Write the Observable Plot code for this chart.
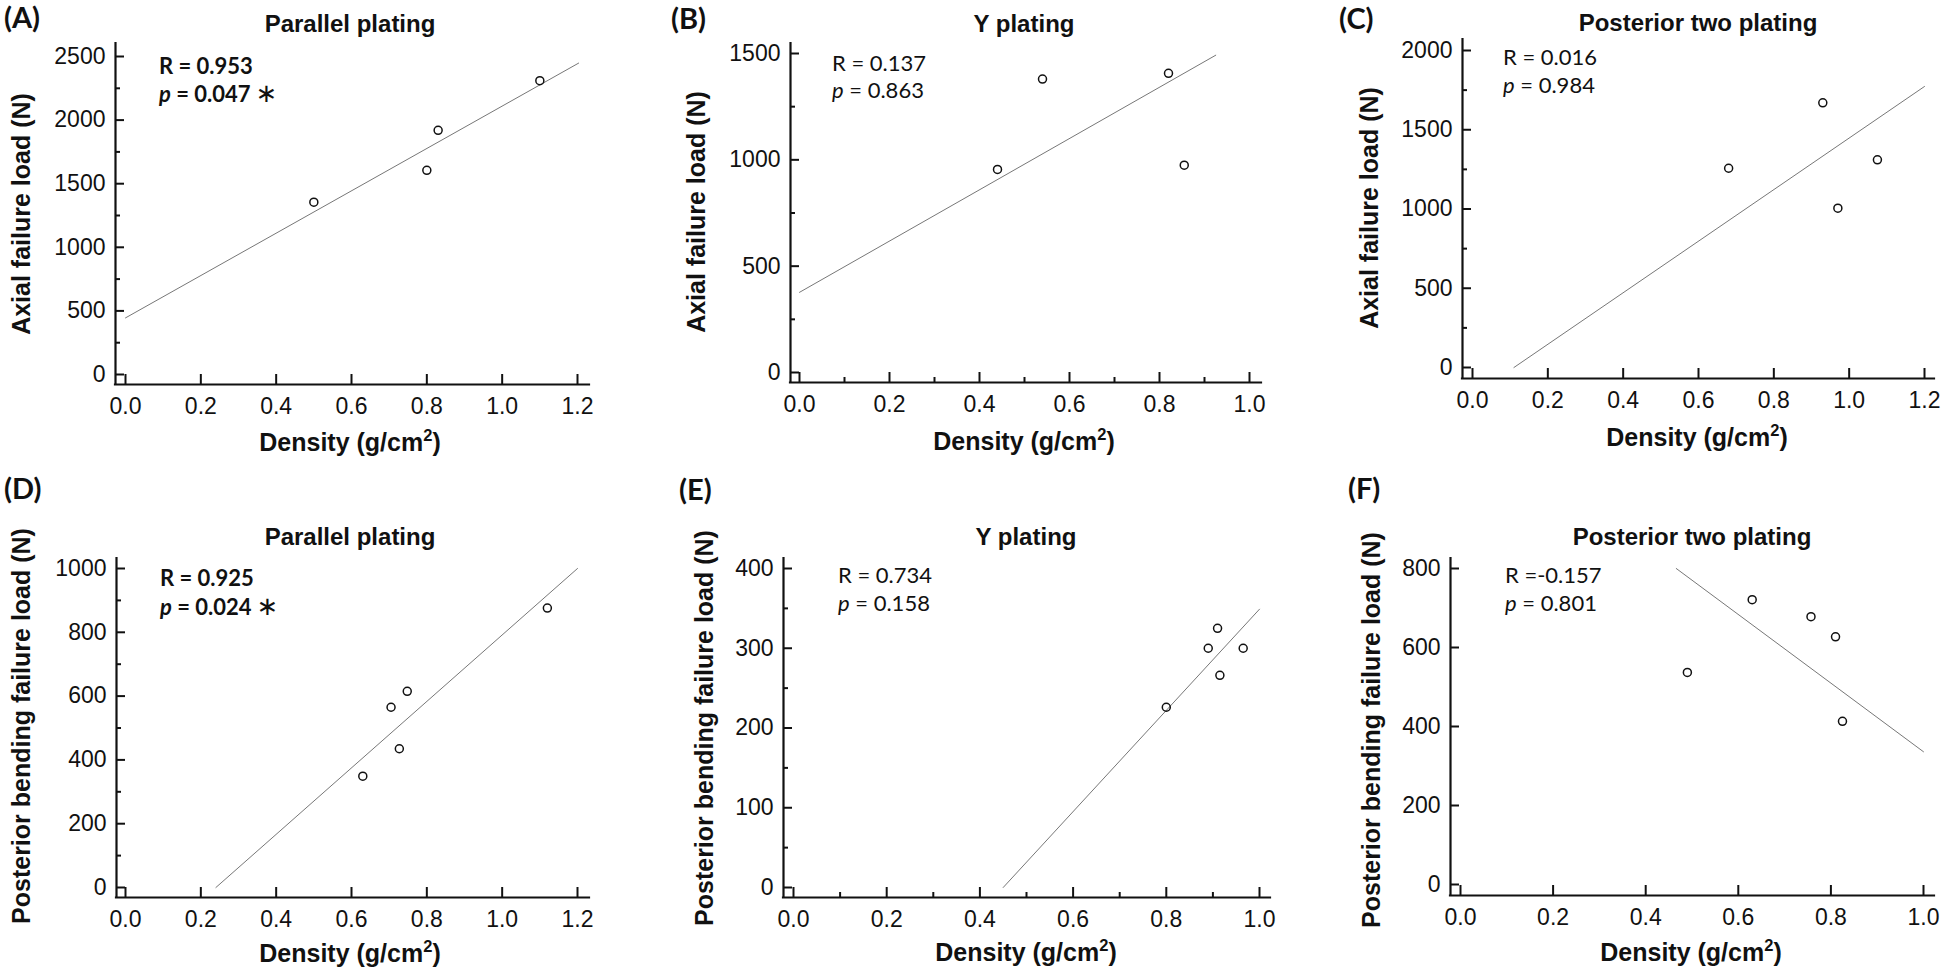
<!DOCTYPE html>
<html>
<head>
<meta charset="utf-8">
<script src="https://cdn.jsdelivr.net/npm/d3@7"></script>
<script src="https://cdn.jsdelivr.net/npm/@observablehq/plot@0.6"></script>
<style>
html, body { margin: 0; padding: 0; background: #fff; }
#fig { position: relative; width: 1946px; height: 970px; overflow: hidden; background: #fff; color: #111; }
.t { position: absolute; white-space: nowrap; color: #111; }
.t sup { font-size: 0.66em; line-height: 0; vertical-align: 0.6em; }
</style>
</head>
<body>
<div id="fig"></div>
<script>
// ---------------- DATA ----------------
// Panel A – Axial failure load, Parallel plating
const aDensity = [0.50, 0.80, 0.83, 1.10];
const aLoad    = [1355, 1605, 1920, 2310];
const aFitX = [0, 1.203];
const aFitY = [445, 2448];
// Panel B – Axial failure load, Y plating
const bDensity = [0.44, 0.54, 0.82, 0.855];
const bLoad    = [955, 1380, 1407, 975];
const bFitX = [0, 0.925];
const bFitY = [377, 1492];
// Panel C – Axial failure load, Posterior two plating
const cDensity = [0.68, 0.93, 0.97, 1.075];
const cLoad    = [1257, 1670, 1005, 1310];
const cFitX = [0.11, 1.2];
const cFitY = [0, 1773];
// Panel D – Posterior bending failure load, Parallel plating
const dDensity = [0.63, 0.705, 0.727, 0.748, 1.12];
const dLoad    = [349, 565, 435, 615, 876];
const dFitX = [0.24, 1.2];
const dFitY = [0, 1000];
// Panel E – Posterior bending failure load, Y plating
const eDensity = [0.80, 0.89, 0.91, 0.915, 0.965];
const eLoad    = [226, 300, 325, 266, 300];
const eFitX = [0.45, 1.0];
const eFitY = [0, 349];
// Panel F – Posterior bending failure load, Posterior two plating
const fDensity = [0.49, 0.63, 0.757, 0.81, 0.825];
const fLoad    = [537, 721, 678, 627, 413];
const fFitX = [0.466, 1.0];
const fFitY = [800, 336];

// tick values
const xTicks12 = [0, 0.2, 0.4, 0.6, 0.8, 1.0, 1.2];
const xTicks10 = [0, 0.2, 0.4, 0.6, 0.8, 1.0];
const xMinor10 = [0.1, 0.3, 0.5, 0.7, 0.9];
const yTicksA = [0, 500, 1000, 1500, 2000, 2500];
const yMinorA = [250, 750, 1250, 1750, 2250];
const yTicksB = [0, 500, 1000, 1500];
const yMinorB = [250, 750, 1250];
const yTicksC = [0, 500, 1000, 1500, 2000];
const yMinorC = [250, 750, 1250, 1750];
const yTicksD = [0, 200, 400, 600, 800, 1000];
const yMinorD = [100, 300, 500, 700, 900];
const yTicksE = [0, 100, 200, 300, 400];
const yMinorE = [50, 150, 250, 350];
const yTicksF = [0, 200, 400, 600, 800];

// texts
const letters = ["(A)", "(B)", "(C)", "(D)", "(E)", "(F)"];
const titles = ["Parallel plating", "Y plating", "Posterior two plating",
                "Parallel plating", "Y plating", "Posterior two plating"];
const yTitles = ["Axial failure load (N)", "Axial failure load (N)", "Axial failure load (N)",
                 "Posterior bending failure load (N)", "Posterior bending failure load (N)", "Posterior bending failure load (N)"];
const rTexts = ["R = 0.953", "R = 0.137", "R = 0.016", "R = 0.925", "R = 0.734", "R =-0.157"];
const pTexts = ["0.047", "0.863", "0.984", "0.024", "0.158", "0.801"];
const significant = [true, false, false, true, false, false];

// ---------------- LAYOUT (page pixels) ----------------
const layout = [
  {left: 0,    top: 0,   W: 648, H: 485, axisLineX: 115,  x0: 125,  x1: 577,  axisEnd: 589,  axisTop: 43,  y1: 56,  y0: 374, axisLineY: 384,
   letterX: 4, letterBase: 28, titleX: 350, titleBase: 32, yTitleX: 21, yTitleY: 214, xTitleX: 350, xTitleBase: 451, rX: 159, rBase: 75, pBase: 102},
  {left: 648,  top: 0,   W: 648, H: 485, axisLineX: 790,  x0: 799,  x1: 1249, axisEnd: 1261, axisTop: 43,  y1: 53,  y0: 372, axisLineY: 382,
   letterX: 671, letterBase: 29, titleX: 1024, titleBase: 32, yTitleX: 696, yTitleY: 212, xTitleX: 1024, xTitleBase: 450, rX: 832, rBase: 72, pBase: 99},
  {left: 1296, top: 0,   W: 650, H: 485, axisLineX: 1462, x0: 1472, x1: 1924, axisEnd: 1934, axisTop: 39,  y1: 50,  y0: 367, axisLineY: 378,
   letterX: 1339, letterBase: 29, titleX: 1698, titleBase: 31, yTitleX: 1369, yTitleY: 208, xTitleX: 1697, xTitleBase: 446, rX: 1503, rBase: 66, pBase: 94},
  {left: 0,    top: 485, W: 648, H: 485, axisLineX: 116,  x0: 125,  x1: 577,  axisEnd: 589,  axisTop: 558, y1: 568, y0: 887, axisLineY: 897,
   letterX: 4, letterBase: 499, titleX: 350, titleBase: 545, yTitleX: 21, yTitleY: 726, xTitleX: 350, xTitleBase: 962, rX: 160, rBase: 587, pBase: 615},
  {left: 648,  top: 485, W: 648, H: 485, axisLineX: 783,  x0: 793,  x1: 1259, axisEnd: 1270, axisTop: 558, y1: 568, y0: 887, axisLineY: 897,
   letterX: 679, letterBase: 500, titleX: 1026, titleBase: 545, yTitleX: 704, yTitleY: 728, xTitleX: 1026, xTitleBase: 961, rX: 838, rBase: 584, pBase: 612},
  {left: 1296, top: 485, W: 650, H: 485, axisLineX: 1450, x0: 1460, x1: 1923, axisEnd: 1934, axisTop: 558, y1: 568, y0: 884, axisLineY: 895,
   letterX: 1348, letterBase: 499, titleX: 1692, titleBase: 545, yTitleX: 1371, yTitleY: 730, xTitleX: 1691, xTitleBase: 961, rX: 1505, rBase: 584, pBase: 612}
];

const panels = [
  {xs: aDensity, ys: aLoad, fx: aFitX, fy: aFitY, xmax: 1.2, ymax: 2500, xTicks: xTicks12, xMinor: [], yTicks: yTicksA, yMinor: yMinorA},
  {xs: bDensity, ys: bLoad, fx: bFitX, fy: bFitY, xmax: 1.0, ymax: 1500, xTicks: xTicks10, xMinor: xMinor10, yTicks: yTicksB, yMinor: yMinorB},
  {xs: cDensity, ys: cLoad, fx: cFitX, fy: cFitY, xmax: 1.2, ymax: 2000, xTicks: xTicks12, xMinor: [], yTicks: yTicksC, yMinor: yMinorC},
  {xs: dDensity, ys: dLoad, fx: dFitX, fy: dFitY, xmax: 1.2, ymax: 1000, xTicks: xTicks12, xMinor: [], yTicks: yTicksD, yMinor: yMinorD},
  {xs: eDensity, ys: eLoad, fx: eFitX, fy: eFitY, xmax: 1.0, ymax: 400,  xTicks: xTicks10, xMinor: xMinor10, yTicks: yTicksE, yMinor: yMinorE},
  {xs: fDensity, ys: fLoad, fx: fFitX, fy: fFitY, xmax: 1.0, ymax: 800,  xTicks: xTicks10, xMinor: [], yTicks: yTicksF, yMinor: []}
];

const fig = document.getElementById("fig");
const SANS = "'Liberation Sans', Arial, sans-serif";
const LATO = "Lato, 'Open Sans', sans-serif";
const K = {sans: 0.8465, lato: 0.887};

function addText(html, {x, base, size, family = SANS, k = K.sans, weight = "normal", center = false}) {
  const d = document.createElement("div");
  d.className = "t";
  d.innerHTML = html;
  d.style.left = x + "px";
  d.style.top = (base - k * size) + "px";
  d.style.fontSize = size + "px";
  d.style.lineHeight = size + "px";
  d.style.fontFamily = family;
  d.style.fontWeight = weight;
  if (center) d.style.transform = "translateX(-50%)";
  fig.appendChild(d);
}
function addRotated(str, {cx, cy, size, weight = "bold"}) {
  const d = document.createElement("div");
  d.className = "t";
  d.textContent = str;
  d.style.left = cx + "px";
  d.style.top = cy + "px";
  d.style.fontSize = size + "px";
  d.style.lineHeight = size + "px";
  d.style.fontFamily = SANS;
  d.style.fontWeight = weight;
  d.style.transform = "translate(-50%, -50%) rotate(-90deg)";
  fig.appendChild(d);
}

const axisColor = "#111";

panels.forEach((p, i) => {
  const L = layout[i];
  const pts = p.xs.map((x, j) => ({density: x, load: p.ys[j]}));
  const fit = p.fx.map((x, j) => ({density: x, load: p.fy[j]}));
  const marks = [
    // axis lines (offset from the data origin, Origin-style)
    Plot.ruleY([0], {dy: L.axisLineY - L.y0, stroke: axisColor, strokeWidth: 2.2, strokeLinecap: "square"}),
    Plot.ruleX([0], {dx: L.axisLineX - L.x0, stroke: axisColor, strokeWidth: 2.2, strokeLinecap: "square"}),
    Plot.axisX(p.xTicks, {anchor: "bottom", tickSize: -10, tickPadding: 23, strokeWidth: 2, tickFormat: d3.format(".1f"), label: null}),
    Plot.axisY(p.yTicks, {anchor: "left", tickSize: -9, tickPadding: 19, strokeWidth: 2, tickFormat: d => String(d), label: null}),
  ];
  if (p.xMinor.length) marks.push(Plot.axisX(p.xMinor, {anchor: "bottom", tickSize: -5, tickPadding: 0, strokeWidth: 2, tickFormat: () => "", label: null}));
  if (p.yMinor.length) marks.push(Plot.axisY(p.yMinor, {anchor: "left", tickSize: -5, tickPadding: 0, strokeWidth: 2, tickFormat: () => "", label: null}));
  marks.push(
    Plot.line(fit, {x: "density", y: "load", stroke: "#777", strokeWidth: 1}),
    Plot.dot(pts, {x: "density", y: "load", r: 4, stroke: "#111", strokeWidth: 1.5, fill: "none"})
  );
  const chart = Plot.plot({
    width: L.W, height: L.H,
    marginLeft: L.axisLineX - L.left,
    marginRight: L.left + L.W - L.axisEnd,
    marginTop: L.axisTop - L.top,
    marginBottom: L.top + L.H - L.axisLineY,
    x: {domain: [0, p.xmax], range: [L.x0 - L.left, L.x1 - L.left], label: null},
    y: {domain: [0, p.ymax], range: [L.y0 - L.top, L.y1 - L.top], label: null},
    style: {fontFamily: SANS, fontSize: "23px", color: axisColor, background: "transparent", overflow: "visible"},
    marks
  });
  chart.style.position = "absolute";
  chart.style.left = L.left + "px";
  chart.style.top = L.top + "px";
  fig.appendChild(chart);

  // texts
  addText(letters[i], {x: L.letterX, base: L.letterBase, size: 29, family: LATO, k: K.lato, weight: "bold"});
  addText(titles[i], {x: L.titleX, base: L.titleBase, size: 24, weight: "bold", center: true});
  addRotated(yTitles[i], {cx: L.yTitleX, cy: L.yTitleY, size: 25});
  addText("Density (g/cm<sup>2</sup>)", {x: L.xTitleX, base: L.xTitleBase, size: 25, weight: "bold", center: true});
  const w = significant[i] ? "bold" : "normal";
  addText(rTexts[i], {x: L.rX, base: L.rBase, size: 22, family: LATO, k: K.lato, weight: w});
  const star = significant[i] ? "<span style=\"font-family:'DejaVu Sans';font-weight:normal;font-size:26px;margin-left:5px\">\u2217</span>" : "";
  addText("<i>p</i> = " + pTexts[i] + star, {x: L.rX, base: L.pBase, size: 22, family: LATO, k: K.lato, weight: w});
});
</script>
</body>
</html>
